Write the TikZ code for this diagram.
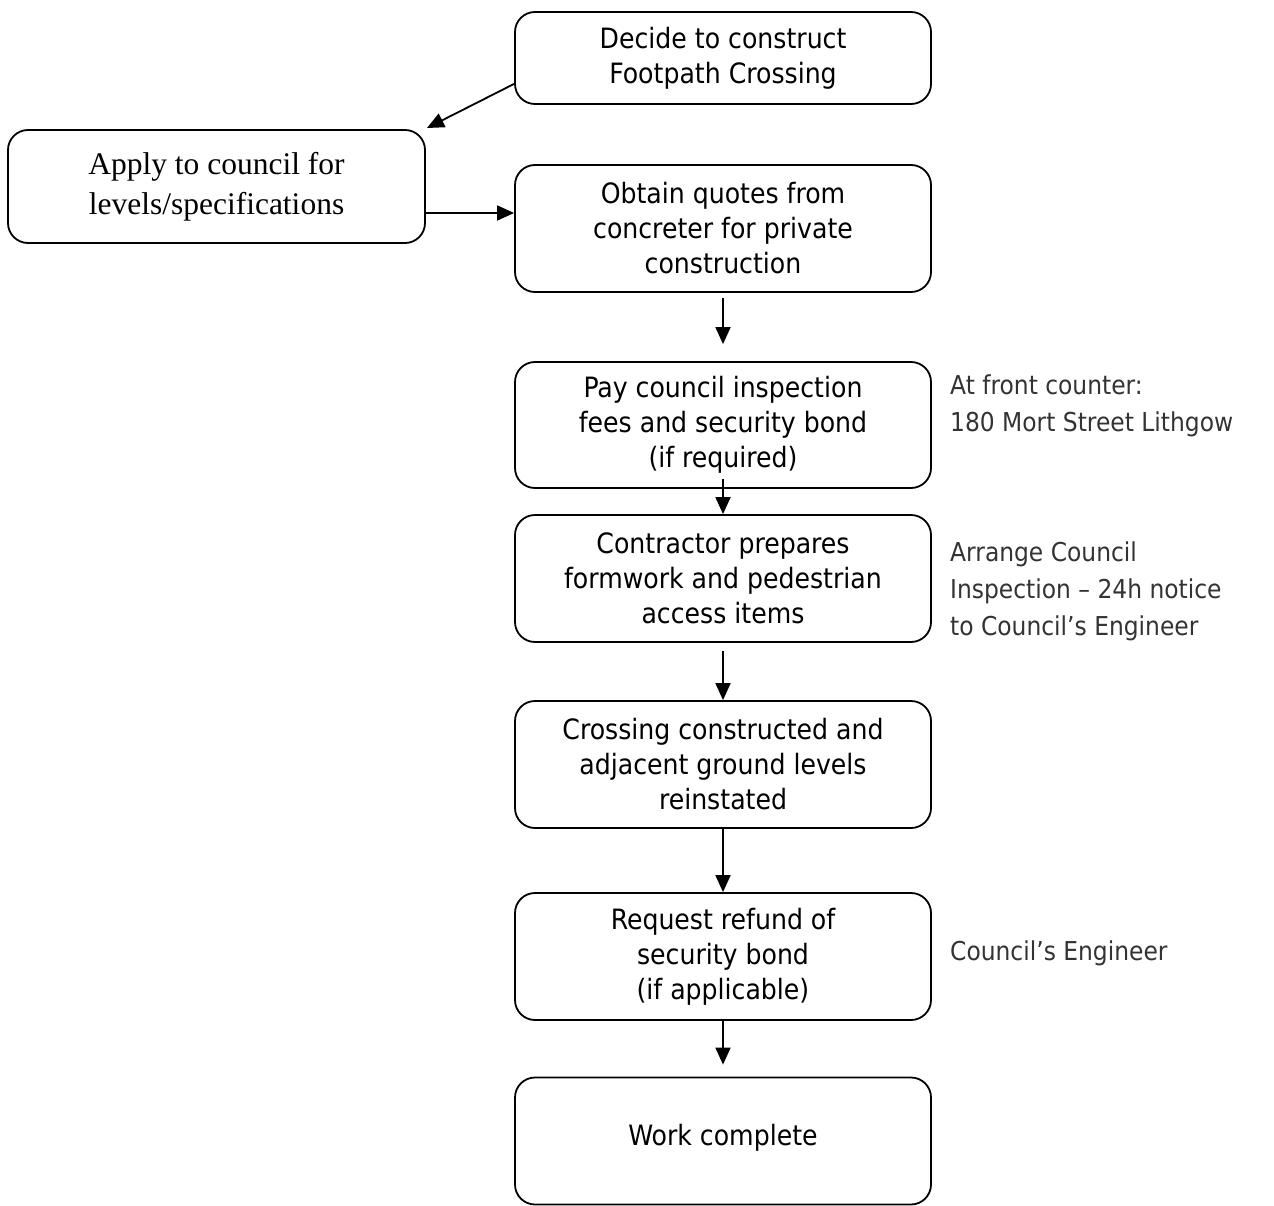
\documentclass[tikz,border=0pt]{standalone}
\usepackage{fontspec}
\setmainfont{DejaVu Sans Condensed}
\newfontfamily\serifface{Liberation Serif}
\usetikzlibrary{arrows.meta,calc}
\begin{document}
\begin{tikzpicture}[x=1pt,y=-1pt,
  box/.style={draw,line width=1.8pt,rounded corners=20pt,minimum width=416pt,align=center,
    font=\fontsize{28}{35}\selectfont,inner sep=0pt},
  note/.style={anchor=west,align=left,text=black!80,font=\fontsize{26}{37}\selectfont,inner sep=0pt},
  conn/.style={line width=1.8pt,-{Triangle[length=17pt,width=15pt]}}]
\useasboundingbox (0,0) rectangle (1274,1206);
\node[box,minimum height=92pt] (b1) at (723,58) {Decide to construct\\Footpath Crossing};
\node[box,minimum height=113pt,minimum width=417pt,font=\serifface\fontsize{31.5}{40}\selectfont] (b2) at (216.5,186.5) {Apply to council for\\levels/specifications};
\node[box,minimum height=127pt] (b3) at (723,228.5) {Obtain quotes from\\concreter for private\\construction};
\node[box,minimum height=126pt] (b4) at (723,425) {\raisebox{8pt}{\begin{tabular}{@{}c@{}}Pay council inspection\\fees and security bond\\(if required)\end{tabular}}};
\node[box,minimum height=127pt] (b5) at (723,578.5) {Contractor prepares\\formwork and pedestrian\\access items};
\node[box,minimum height=127pt] (b6) at (723,764.5) {Crossing constructed and\\adjacent ground levels\\reinstated};
\node[box,minimum height=127pt] (b7) at (723,956.5) {Request refund of\\security bond\\(if applicable)};
\node[box,minimum height=127pt] (b8) at (723,1141) {\raisebox{12pt}{Work complete}};
\node[note] (n1) at (950,406) {At front counter:\\180 Mort Street Lithgow};
\node[note] (n2) at (950,591) {Arrange Council\\Inspection -- 24h notice\\to Council’s Engineer};
\node[note] (n3) at (950,953) {Council’s Engineer};
\coordinate (t1) at (427,128);
\draw[conn] ($(b1.south west)+(0,-21)$) -- (t1);
\draw[conn] (b2.east |- 0,213) -- (b3.west |- 0,213);
\draw[conn] ($(b3.south)+(0,5)$) -- ($(b4.north)+(0,-17)$);
\draw[conn] ($(b4.south)+(0,-10)$) -- (b5.north);
\draw[conn] ($(b5.south)+(0,8)$) -- (b6.north);
\draw[conn] (b6.south) -- (b7.north);
\draw[conn] (b7.south) -- ($(b8.north)+(0,-12)$);
\end{tikzpicture}
\end{document}
